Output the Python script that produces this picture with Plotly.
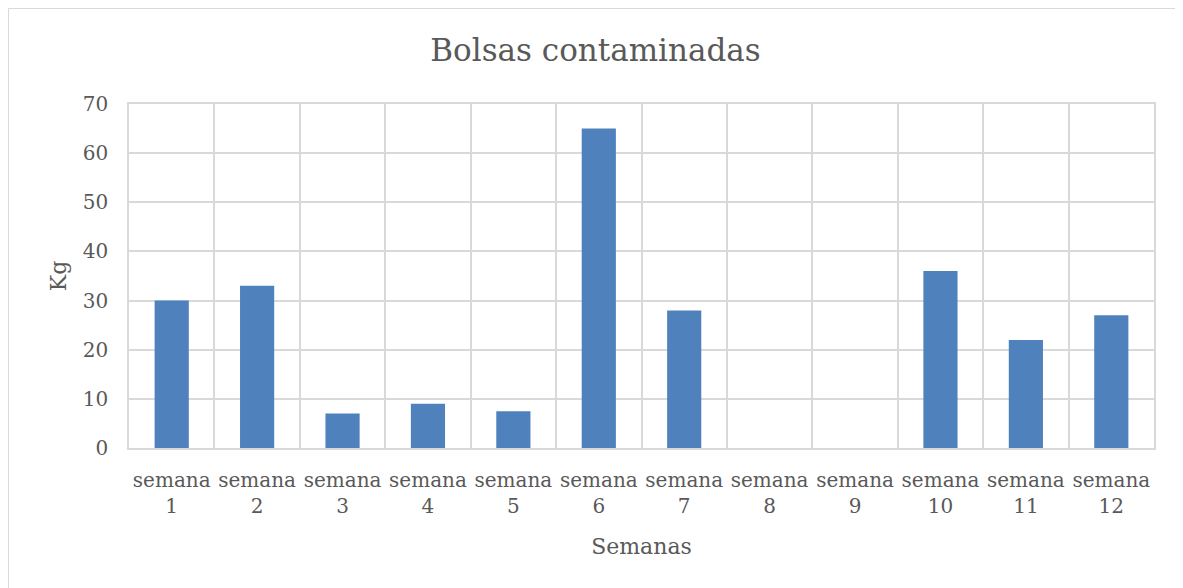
import plotly.graph_objects as go

semanas = ["semana<br>1", "semana<br>2", "semana<br>3", "semana<br>4", "semana<br>5", "semana<br>6",
           "semana<br>7", "semana<br>8", "semana<br>9", "semana<br>10", "semana<br>11", "semana<br>12"]
kg = [30, 33, 7, 9, 7.5, 65, 28, 0, 0, 36, 22, 27]
y_ticks = [0, 10, 20, 30, 40, 50, 60, 70]

font_family = "DejaVu Serif, Liberation Serif, serif"
text_color = "#595959"
grid_color = "#d9d9d9"

# la pagina tiene 8px de margen en el body, por eso 1175x580
W, H = 1175, 580
ml, mr, mt, mb = 121, 29, 96, 140
pw, ph = W - ml - mr, H - mt - mb

fig = go.Figure()
fig.add_trace(go.Bar(x=semanas, y=kg, marker_color="#4f81bd", marker_line_width=0))

fig.update_layout(
    width=W, height=H,
    paper_bgcolor="white", plot_bgcolor="white",
    margin=dict(l=ml, r=mr, t=mt, b=mb, autoexpand=False),
    bargap=0.6,
    showlegend=False,
    font=dict(family=font_family, color=text_color, size=20),
    title=dict(text="Bolsas contaminadas", x=0.5, xanchor="center", y=1 - 42 / H, yanchor="middle",
               font=dict(size=31, color=text_color, family=font_family)),
    xaxis=dict(title=dict(text="Semanas", font=dict(size=22), standoff=22),
               tickson="boundaries", showgrid=True, gridcolor=grid_color, gridwidth=1.5,
               showline=True, linecolor=grid_color, linewidth=1.5, mirror=True,
               ticks="", tickangle=0, ticklabelstandoff=13, tickfont=dict(size=20), automargin=False),
    yaxis=dict(title=dict(text="Kg", font=dict(size=22), standoff=10),
               range=[0, 70], tickvals=y_ticks, showgrid=True, gridcolor=grid_color, gridwidth=1.5,
               showline=True, linecolor=grid_color, linewidth=1.5, mirror=True,
               zeroline=False, ticks="", ticklabelstandoff=15, tickfont=dict(size=20), automargin=False),
    shapes=[dict(type="rect", xref="paper", yref="paper",
                 x0=-(ml - 0.5) / pw, x1=1 + (mr - 1) / pw,
                 y0=-(mb + 5) / ph, y1=1 + (mt - 0.5) / ph,
                 line=dict(color="#d9d9d9", width=1))],
)

fig.write_html("out.html")
